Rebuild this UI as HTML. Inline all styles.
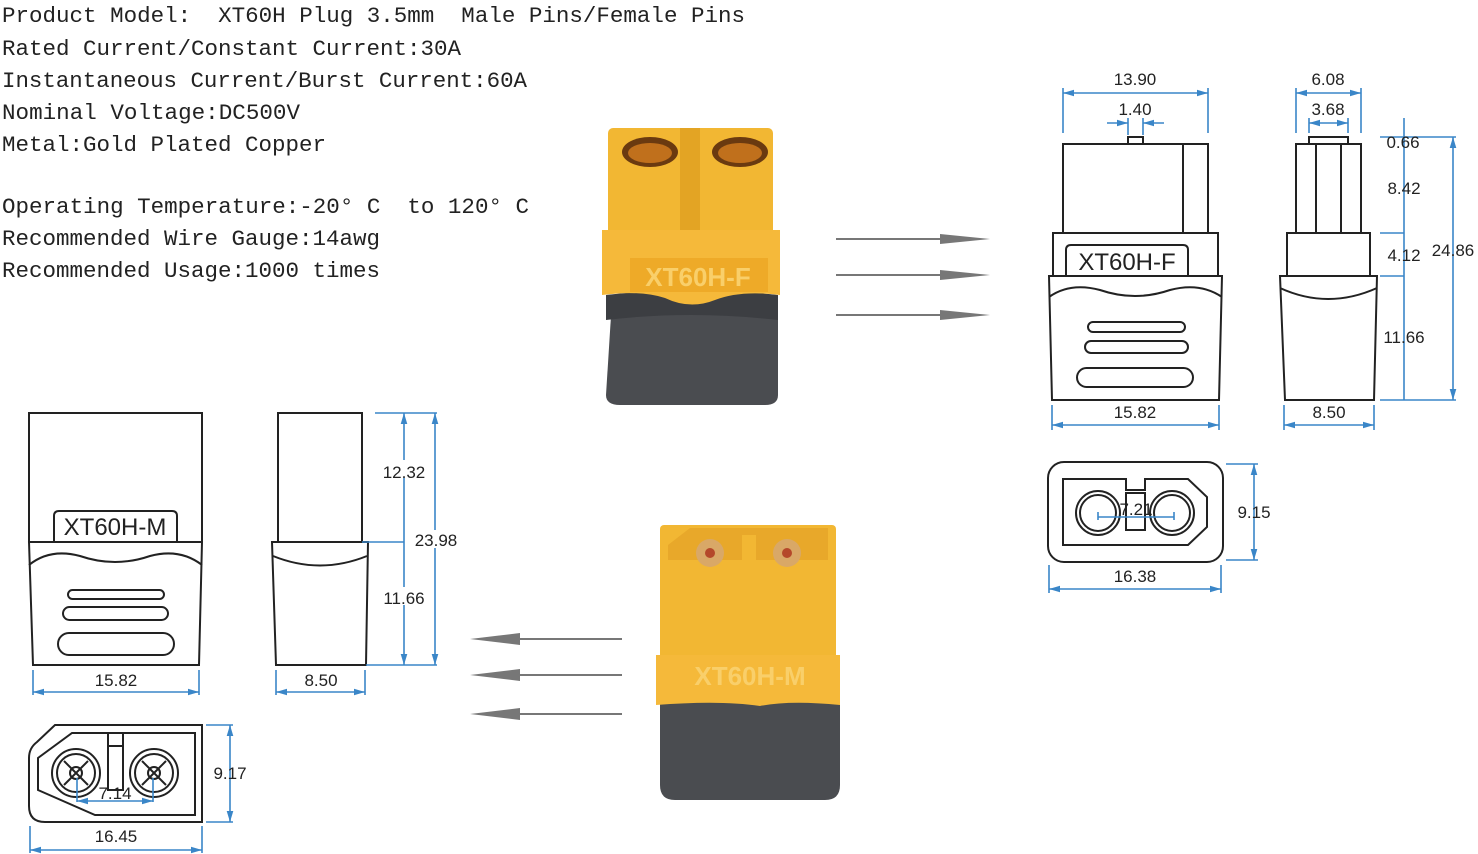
<!DOCTYPE html>
<html><head><meta charset="utf-8"><style>
html,body{margin:0;padding:0;background:#fff;}
svg{display:block;}
.t{font-family:"Liberation Mono",monospace;font-size:22px;fill:#222;white-space:pre;}
.d{font-family:"Liberation Sans",sans-serif;font-size:17px;fill:#222;text-anchor:middle;}
.k{fill:none;stroke:#222;stroke-width:2;}
.b{fill:none;stroke:#3a86c8;stroke-width:1.6;}
</style></head><body>
<svg width="1478" height="854" viewBox="0 0 1478 854" xmlns="http://www.w3.org/2000/svg" xml:space="preserve">
<defs>
<marker id="a" viewBox="0 0 10 10" refX="10" refY="5" markerWidth="7" markerHeight="7" orient="auto-start-reverse"><path d="M0,2 L10,5 L0,8z" fill="#3a86c8"/></marker>
</defs>
<text class="t" x="2" y="22" textLength="743" lengthAdjust="spacingAndGlyphs">Product Model:  XT60H Plug 3.5mm  Male Pins/Female Pins</text>
<text class="t" x="2" y="55" textLength="459" lengthAdjust="spacingAndGlyphs">Rated Current/Constant Current:30A</text>
<text class="t" x="2" y="87" textLength="525" lengthAdjust="spacingAndGlyphs">Instantaneous Current/Burst Current:60A</text>
<text class="t" x="2" y="119" textLength="298" lengthAdjust="spacingAndGlyphs">Nominal Voltage:DC500V</text>
<text class="t" x="2" y="151" textLength="324" lengthAdjust="spacingAndGlyphs">Metal:Gold Plated Copper</text>
<text class="t" x="2" y="213" textLength="527" lengthAdjust="spacingAndGlyphs">Operating Temperature:-20° C  to 120° C</text>
<text class="t" x="2" y="245" textLength="378" lengthAdjust="spacingAndGlyphs">Recommended Wire Gauge:14awg</text>
<text class="t" x="2" y="277" textLength="378" lengthAdjust="spacingAndGlyphs">Recommended Usage:1000 times</text>

<!-- Female photo -->
<path d="M612,300 L778,300 L778,395 Q778,405 765,405 L620,405 Q606,405 606,395Z" fill="#4a4c50"/>
<path d="M606,295 Q690,285 778,295 L778,320 Q690,310 606,320Z" fill="#3c3e42"/>
<rect x="608" y="128" width="165" height="115" rx="5" fill="#f2b733"/>
<rect x="680" y="128" width="20" height="112" fill="#e3a424"/>
<path d="M602,230 L780,230 L780,295 Q740,290 715,300 Q690,310 665,298 Q640,290 602,295Z" fill="#f5b93a"/>
<rect x="630" y="258" width="138" height="34" fill="#eeaa28"/>
<text x="698" y="286" font-family="Liberation Sans,sans-serif" font-weight="bold" font-size="26" fill="#f9cf6a" text-anchor="middle">XT60H-F</text>
<ellipse cx="650" cy="152" rx="28" ry="15" fill="#6a3a10"/><ellipse cx="650" cy="153" rx="22" ry="10" fill="#c0701c"/>
<ellipse cx="740" cy="152" rx="28" ry="15" fill="#6a3a10"/><ellipse cx="740" cy="153" rx="22" ry="10" fill="#c0701c"/>
<g fill="#777"><rect x="836" y="238" width="110" height="2"/><path d="M940,234 L990,239 L940,244z"/>
<rect x="836" y="274" width="110" height="2"/><path d="M940,270 L990,275 L940,280z"/>
<rect x="836" y="314" width="110" height="2"/><path d="M940,310 L990,315 L940,320z"/></g>

<!-- Male photo -->
<path d="M660,700 L840,700 L840,785 Q840,800 825,800 L675,800 Q660,800 660,785Z" fill="#4a4c50"/>
<rect x="660" y="525" width="176" height="150" rx="4" fill="#f2b733"/>
<path d="M668,560 L668,545 L690,528 L828,528 L828,560Z" fill="#e8a82a"/>
<rect x="742" y="535" width="14" height="25" fill="#f2b733"/>
<circle cx="710" cy="553" r="14" fill="#d9a867"/><circle cx="787" cy="553" r="14" fill="#d9a867"/>
<circle cx="710" cy="553" r="5" fill="#b5482a"/><circle cx="787" cy="553" r="5" fill="#b5482a"/>
<path d="M656,655 L840,655 L840,705 Q790,700 760,706 Q720,700 656,705Z" fill="#f5b93a"/>
<text x="750" y="685" font-family="Liberation Sans,sans-serif" font-weight="bold" font-size="26" fill="#f9cf6a" text-anchor="middle">XT60H-M</text>
<g fill="#777"><rect x="520" y="638" width="102" height="2"/><path d="M520,633 L470,639 L520,645z"/>
<rect x="520" y="674" width="102" height="2"/><path d="M520,669 L470,675 L520,681z"/>
<rect x="520" y="713" width="102" height="2"/><path d="M520,708 L470,714 L520,720z"/></g>

<!-- Female front view -->
<rect class="k" x="1128" y="137" width="15" height="7"/>
<rect class="k" x="1063" y="144" width="145" height="89"/>
<line class="k" x1="1183" y1="144" x2="1183" y2="233"/>
<rect class="k" x="1053" y="233" width="165" height="43"/>
<path class="k" d="M1066,276 L1066,250 Q1066,245 1071,245 L1183,245 Q1188,245 1188,250 L1188,276" fill="#fff"/>
<text x="1127" y="270" font-family="Liberation Sans,sans-serif" font-size="24" fill="#222" text-anchor="middle">XT60H-F</text>
<path class="k" d="M1049,276 L1222,276 L1219,400 L1052,400Z" fill="#fff"/>
<path class="k" d="M1049,297 Q1070,282 1100,290 Q1135,302 1170,290 Q1200,282 1222,297"/>
<rect class="k" x="1088" y="322" width="97" height="10" rx="5"/>
<rect class="k" x="1085" y="341" width="103" height="12" rx="6"/>
<rect class="k" x="1077" y="368" width="116" height="19" rx="9.5"/>
<line class="b" x1="1063" y1="133" x2="1063" y2="88"/><line class="b" x1="1208" y1="133" x2="1208" y2="88"/>
<line class="b" x1="1063" y1="93" x2="1208" y2="93" marker-start="url(#a)" marker-end="url(#a)"/>
<text class="d" x="1135" y="85">13.90</text>
<line class="b" x1="1128" y1="135" x2="1128" y2="118"/><line class="b" x1="1143" y1="135" x2="1143" y2="118"/>
<line class="b" x1="1107" y1="123" x2="1128" y2="123" marker-end="url(#a)"/><line class="b" x1="1164" y1="123" x2="1143" y2="123" marker-end="url(#a)"/>
<text class="d" x="1135" y="115">1.40</text>
<line class="b" x1="1052" y1="405" x2="1052" y2="430"/><line class="b" x1="1219" y1="405" x2="1219" y2="430"/>
<line class="b" x1="1052" y1="425" x2="1219" y2="425" marker-start="url(#a)" marker-end="url(#a)"/>
<text class="d" x="1135" y="418">15.82</text>

<!-- Female side view -->
<rect class="k" x="1309" y="137" width="39" height="7"/>
<rect class="k" x="1296" y="144" width="65" height="89"/>
<line class="k" x1="1316" y1="144" x2="1316" y2="233"/><line class="k" x1="1341" y1="144" x2="1341" y2="233"/>
<rect class="k" x="1287" y="233" width="83" height="43"/>
<path class="k" d="M1280,276 L1377,276 L1374,400 L1285,400Z"/>
<path class="k" d="M1280,288 Q1328,310 1377,288"/>
<line class="b" x1="1296" y1="133" x2="1296" y2="88"/><line class="b" x1="1361" y1="133" x2="1361" y2="88"/>
<line class="b" x1="1296" y1="93" x2="1361" y2="93" marker-start="url(#a)" marker-end="url(#a)"/>
<text class="d" x="1328" y="85">6.08</text>
<line class="b" x1="1309" y1="133" x2="1309" y2="118"/><line class="b" x1="1348" y1="133" x2="1348" y2="118"/>
<line class="b" x1="1309" y1="123" x2="1348" y2="123" marker-start="url(#a)" marker-end="url(#a)"/>
<text class="d" x="1328" y="115">3.68</text>
<line class="b" x1="1380" y1="137" x2="1456" y2="137"/>
<line class="b" x1="1380" y1="233" x2="1404" y2="233"/>
<line class="b" x1="1380" y1="276" x2="1404" y2="276"/>
<line class="b" x1="1380" y1="400" x2="1456" y2="400"/>
<line class="b" x1="1404" y1="118" x2="1404" y2="400"/>
<line class="b" x1="1453" y1="137" x2="1453" y2="400" marker-start="url(#a)" marker-end="url(#a)"/>
<text class="d" x="1403" y="148">0.66</text>
<text class="d" x="1404" y="194">8.42</text>
<text class="d" x="1404" y="261">4.12</text>
<text class="d" x="1404" y="343">11.66</text>
<text class="d" x="1453" y="256">24.86</text>
<line class="b" x1="1284" y1="405" x2="1284" y2="430"/><line class="b" x1="1374" y1="405" x2="1374" y2="430"/>
<line class="b" x1="1284" y1="425" x2="1374" y2="425" marker-start="url(#a)" marker-end="url(#a)"/>
<text class="d" x="1329" y="418">8.50</text>

<!-- Female bottom view -->
<rect class="k" x="1048" y="462" width="175" height="100" rx="16"/>
<path class="k" d="M1063,479 L1126,479 L1126,490 L1145,490 L1145,479 L1188,479 L1207,497 L1207,527 L1188,545 L1063,545Z"/>
<rect class="k" x="1126" y="493" width="19" height="37"/>
<circle class="k" cx="1098" cy="513" r="22"/><circle class="k" cx="1098" cy="513" r="18"/>
<circle class="k" cx="1172" cy="513" r="22"/><circle class="k" cx="1172" cy="513" r="18"/>
<line class="b" x1="1098" y1="517" x2="1174" y2="517"/><line class="b" x1="1098" y1="512" x2="1098" y2="520"/><line class="b" x1="1174" y1="512" x2="1174" y2="520"/>
<text class="d" x="1136" y="515" font-size="14">7.21</text>
<line class="b" x1="1226" y1="464" x2="1258" y2="464"/><line class="b" x1="1226" y1="560" x2="1258" y2="560"/>
<line class="b" x1="1254" y1="464" x2="1254" y2="560" marker-start="url(#a)" marker-end="url(#a)"/>
<text class="d" x="1254" y="518">9.15</text>
<line class="b" x1="1049" y1="565" x2="1049" y2="593"/><line class="b" x1="1221" y1="565" x2="1221" y2="593"/>
<line class="b" x1="1049" y1="589" x2="1221" y2="589" marker-start="url(#a)" marker-end="url(#a)"/>
<text class="d" x="1135" y="582">16.38</text>

<!-- Male front view -->
<rect class="k" x="29" y="413" width="173" height="129"/>
<path class="k" d="M54,542 L54,516 Q54,511 59,511 L172,511 Q177,511 177,516 L177,542" fill="#fff"/>
<text x="115" y="535" font-family="Liberation Sans,sans-serif" font-size="24" fill="#222" text-anchor="middle">XT60H-M</text>
<path class="k" d="M29,542 L202,542 L199,665 L33,665Z"/>
<path class="k" d="M29,565 Q50,548 80,556 Q115,568 150,556 Q180,548 202,565"/>
<rect class="k" x="68" y="590" width="96" height="9" rx="4.5"/>
<rect class="k" x="63" y="607" width="105" height="13" rx="6.5"/>
<rect class="k" x="58" y="633" width="116" height="22" rx="11"/>
<line class="b" x1="33" y1="670" x2="33" y2="695"/><line class="b" x1="199" y1="670" x2="199" y2="695"/>
<line class="b" x1="33" y1="692" x2="199" y2="692" marker-start="url(#a)" marker-end="url(#a)"/>
<text class="d" x="116" y="686">15.82</text>

<!-- Male side view -->
<rect class="k" x="278" y="413" width="84" height="129"/>
<path class="k" d="M272,542 L368,542 L366,665 L276,665Z"/>
<path class="k" d="M273,556 Q320,575 367,556"/>
<line class="b" x1="375" y1="413" x2="437" y2="413"/>
<line class="b" x1="362" y1="542" x2="404" y2="542"/>
<line class="b" x1="366" y1="665" x2="437" y2="665"/>
<line class="b" x1="404" y1="413" x2="404" y2="665" marker-start="url(#a)" marker-end="url(#a)"/>
<line class="b" x1="435" y1="413" x2="435" y2="665" marker-start="url(#a)" marker-end="url(#a)"/>
<rect x="385" y="460" width="40" height="18" fill="#fff"/>
<text class="d" x="404" y="478">12.32</text>
<rect x="385" y="587" width="40" height="18" fill="#fff"/>
<text class="d" x="404" y="604">11.66</text>
<rect x="414" y="530" width="44" height="18" fill="#fff"/>
<text class="d" x="436" y="546">23.98</text>
<line class="b" x1="276" y1="670" x2="276" y2="695"/><line class="b" x1="365" y1="670" x2="365" y2="695"/>
<line class="b" x1="276" y1="692" x2="365" y2="692" marker-start="url(#a)" marker-end="url(#a)"/>
<text class="d" x="321" y="686">8.50</text>

<!-- Male bottom view -->
<path class="k" d="M55,725 L202,725 L202,822 L45,822 Q29,822 29,806 L29,758 Q29,748 37,742Z"/>
<path class="k" d="M108,733 L195,733 L195,815 L95,815 L38,790 L38,758 L72,733Z"/>
<rect class="k" x="108" y="733" width="15" height="57"/>
<line class="k" x1="108" y1="746" x2="123" y2="746"/>
<circle class="k" cx="76" cy="773" r="24"/><circle class="k" cx="76" cy="773" r="19"/><circle class="k" cx="76" cy="773" r="6"/>
<circle class="k" cx="154" cy="773" r="24"/><circle class="k" cx="154" cy="773" r="19"/><circle class="k" cx="154" cy="773" r="6"/>
<g class="k" stroke-width="1.5"><line x1="64" y1="761" x2="88" y2="785"/><line x1="88" y1="761" x2="64" y2="785"/><line x1="142" y1="761" x2="166" y2="785"/><line x1="166" y1="761" x2="142" y2="785"/></g>
<line class="b" x1="77" y1="778" x2="77" y2="802"/><line class="b" x1="153" y1="778" x2="153" y2="802"/>
<line class="b" x1="77" y1="801" x2="153" y2="801" marker-start="url(#a)" marker-end="url(#a)"/>
<text class="d" x="115" y="799" font-size="14">7.14</text>
<line class="b" x1="206" y1="725" x2="233" y2="725"/><line class="b" x1="206" y1="822" x2="233" y2="822"/>
<line class="b" x1="230" y1="725" x2="230" y2="822" marker-start="url(#a)" marker-end="url(#a)"/>
<text class="d" x="230" y="779">9.17</text>
<line class="b" x1="30" y1="826" x2="30" y2="853"/><line class="b" x1="202" y1="826" x2="202" y2="853"/>
<line class="b" x1="30" y1="850" x2="202" y2="850" marker-start="url(#a)" marker-end="url(#a)"/>
<text class="d" x="116" y="842">16.45</text>
</svg>
</body></html>
